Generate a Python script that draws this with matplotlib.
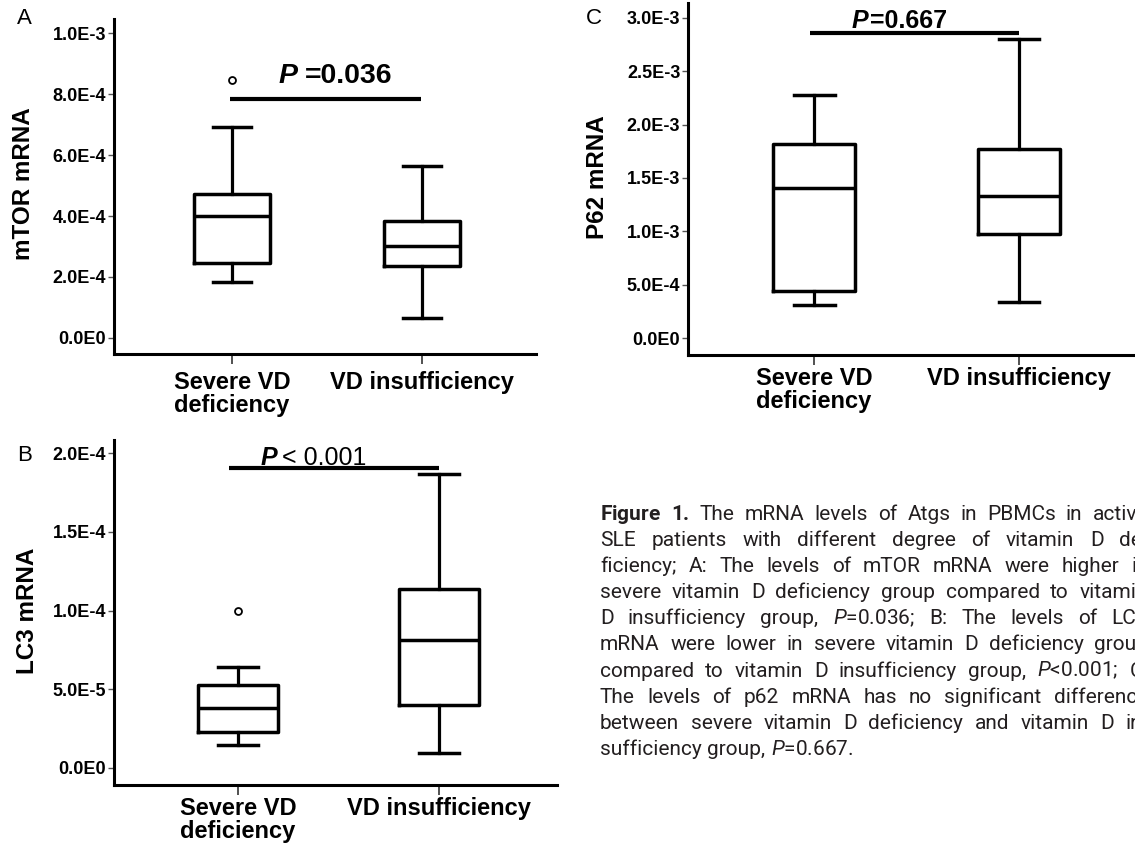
import matplotlib.pyplot as plt

plt.rcParams['font.family'] = ['Liberation Sans', 'DejaVu Sans']
plt.rcParams['mathtext.fontset'] = 'custom'
plt.rcParams['mathtext.rm'] = 'Roboto'
plt.rcParams['mathtext.it'] = 'Roboto:italic'
plt.rcParams['mathtext.bf'] = 'Roboto:bold'

groups = ['Severe VD\ndeficiency', 'VD insufficiency']

# A: mTOR mRNA (box stats)
mtor_q1 = [2.45e-4, 2.36e-4]
mtor_med = [4.01e-4, 3.02e-4]
mtor_q3 = [4.71e-4, 3.85e-4]
mtor_lo = [1.85e-4, 0.66e-4]
mtor_hi = [6.91e-4, 5.65e-4]
mtor_out = [[8.46e-4], []]
mtor_ticks = [0, 2e-4, 4e-4, 6e-4, 8e-4, 1e-3]
mtor_labels = ['0.0E0', '2.0E-4', '4.0E-4', '6.0E-4', '8.0E-4', '1.0E-3']

# B: LC3 mRNA
lc3_q1 = [2.31e-5, 4.00e-5]
lc3_med = [3.79e-5, 8.13e-5]
lc3_q3 = [5.27e-5, 1.137e-4]
lc3_lo = [1.46e-5, 0.97e-5]
lc3_hi = [6.43e-5, 1.867e-4]
lc3_out = [[9.97e-5], []]
lc3_ticks = [0, 5e-5, 1e-4, 1.5e-4, 2e-4]
lc3_labels = ['0.0E0', '5.0E-5', '1.0E-4', '1.5E-4', '2.0E-4']

# C: P62 mRNA
p62_q1 = [0.445e-3, 0.978e-3]
p62_med = [1.408e-3, 1.332e-3]
p62_q3 = [1.818e-3, 1.771e-3]
p62_lo = [0.310e-3, 0.335e-3]
p62_hi = [2.279e-3, 2.803e-3]
p62_out = [[], []]
p62_ticks = [0, 5e-4, 1e-3, 1.5e-3, 2e-3, 2.5e-3, 3e-3]
p62_labels = ['0.0E0', '5.0E-4', '1.0E-3', '1.5E-3', '2.0E-3', '2.5E-3', '3.0E-3']

caption_lines = [
    r"$\mathbf{Figure}$ $\mathbf{1.}$ The mRNA levels of Atgs in PBMCs in active",
    "SLE patients with different degree of vitamin D de-",
    "ficiency; A: The levels of mTOR mRNA were higher in",
    "severe vitamin D deficiency group compared to vitamin",
    r"D insufficiency group, $\mathit{P}$=0.036; B: The levels of LC3",
    "mRNA were lower in severe vitamin D deficiency group",
    r"compared to vitamin D insufficiency group, $\mathit{P}$<0.001; C:",
    "The levels of p62 mRNA has no significant difference",
    "between severe vitamin D deficiency and vitamin D in-",
    r"sufficiency group, $\mathit{P}$=0.667.",
]

W, H = 1135, 843
fig = plt.figure(figsize=(W / 100, H / 100), dpi=100)


def px_axes(left, right, top, bottom):
    return fig.add_axes([left / W, 1 - bottom / H, (right - left) / W, (bottom - top) / H])


def panel(ax, q1, med, q3, lo, hi, out, ticks, labels, ylabel, ylim, xlim, lab_xy, xpad):
    stats = [dict(q1=q1[i], med=med[i], q3=q3[i], whislo=lo[i], whishi=hi[i], fliers=out[i])
             for i in range(2)]
    ax.bxp(stats, positions=[1, 2], widths=0.4, capwidths=0.2,
           boxprops=dict(lw=2.5, color='k'), medianprops=dict(lw=2.5, color='k'),
           whiskerprops=dict(lw=2.3, color='k'), capprops=dict(lw=2.5, color='k'),
           flierprops=dict(marker='o', mfc='none', mec='k', ms=5, mew=1.3))
    ax.set_xlim(*xlim)
    ax.set_ylim(*ylim)
    ax.set_xticks([1, 2])
    ax.set_xticklabels(groups, fontsize=17, fontweight='bold', linespacing=1.0)
    ax.set_yticks(ticks)
    ax.set_yticklabels(labels, fontsize=13, fontweight='bold')
    ax.tick_params(axis='x', length=7, width=1.2, color='#333', pad=xpad)
    ax.tick_params(axis='y', length=4, width=1.0, color='#555', pad=1.5)
    for s in ['top', 'right']:
        ax.spines[s].set_visible(False)
    for s in ['left', 'bottom']:
        ax.spines[s].set_linewidth(2.2)
    ax.set_ylabel(ylabel, fontsize=17.5, fontweight='bold')
    ax.yaxis.set_label_coords(*lab_xy)
    ax.set_facecolor('none')


def pval(ax, bar_x, bar_y, px, rx, ty, rest, size, weight):
    ax.plot(bar_x, [bar_y, bar_y], color='k', lw=3, solid_capstyle='butt', clip_on=False)
    ax.text(px, ty, 'P', fontsize=size, fontweight='bold', fontstyle='italic', va='baseline')
    ax.text(rx, ty, rest, fontsize=size, fontweight=weight, va='baseline')


axA = px_axes(114, 536, 19, 354)
panel(axA, mtor_q1, mtor_med, mtor_q3, mtor_lo, mtor_hi, mtor_out, mtor_ticks, mtor_labels,
      'mTOR mRNA', (-0.0525e-3, 1.046e-3), (0.379, 2.6), (-0.187, 0.51), 5)
pval(axA, [0.99, 1.995], 7.83e-4, 1.247, 1.384, 8.36e-4, '=0.036', 20.5, 'bold')

axB = px_axes(114, 557, 440, 785)
panel(axB, lc3_q1, lc3_med, lc3_q3, lc3_lo, lc3_hi, lc3_out, lc3_ticks, lc3_labels,
      'LC3 mRNA', (-1.08e-5, 2.083e-4), (0.383, 2.587), (-0.169, 0.504), 1.5)
pval(axB, [0.955, 2.0], 1.905e-4, 1.114, 1.219, 1.924e-4, '< 0.001', 18, 'normal')

axC = px_axes(688, 1135, 3, 355)
panel(axC, p62_q1, p62_med, p62_q3, p62_lo, p62_hi, p62_out, p62_ticks, p62_labels,
      'P62 mRNA', (-0.159e-3, 3.14e-3), (0.385, 2.566), (-0.177, 0.506), 1.5)
pval(axC, [0.98, 2.0], 2.859e-3, 1.183, 1.273, 2.906e-3, '=0.667', 18, 'bold')

for letter, (x, y) in zip('ABC', [(24, 18), (25, 455), (594, 18)]):
    fig.text(x / W, 1 - y / H, letter, fontsize=16, ha='center', va='center')

# caption, justified between x=600 and x=1148 (right side runs past the image edge)
renderer = fig.canvas.get_renderer()
x_left, x_right = 600, 1148
for i, line in enumerate(caption_lines):
    yb = 1 - (519.5 + 26.2 * i) / H
    words = line.split(' ')
    texts = [fig.text(0, yb, w, fontsize=15, family='Roboto', color='#231f20', va='baseline')
             for w in words]
    widths = [t.get_window_extent(renderer).width for t in texts]
    if i < len(caption_lines) - 1:
        gap = max((x_right - x_left - sum(widths)) / (len(words) - 1), 3.0)
    else:
        gap = 5.5
    x = x_left
    for t, w in zip(texts, widths):
        t.set_x(x / W)
        x += w + gap

fig.savefig('out.png', dpi=100)
